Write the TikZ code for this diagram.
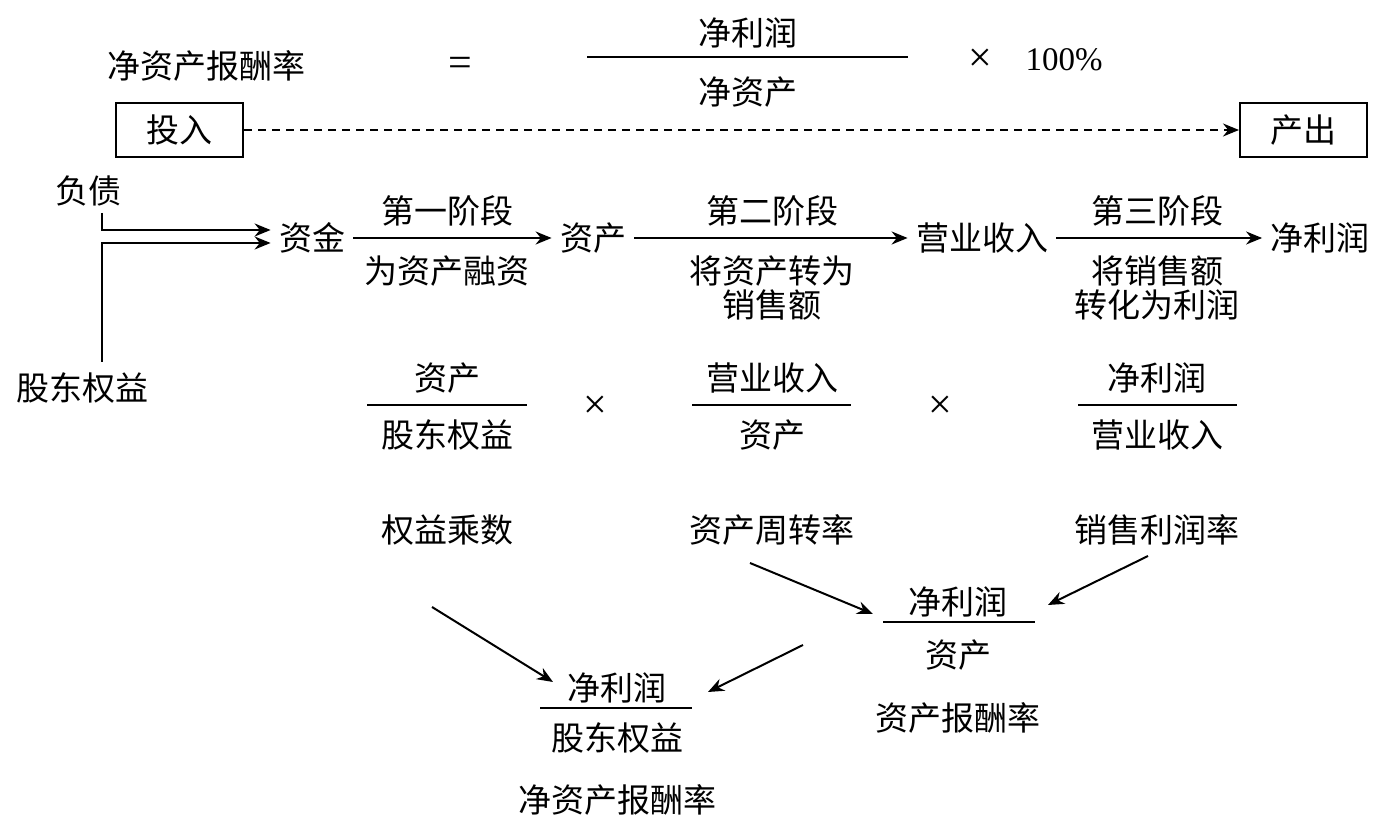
\documentclass[tikz,border=0pt]{standalone}
\usepackage{fontspec}
\setmainfont{Liberation Serif}
\newfontfamily\cjk{Noto Sans CJK SC}
\usetikzlibrary{arrows.meta}

\tikzset{
    lbl/.style={font=\cjk\fontsize{16.5}{17}\selectfont, inner sep=4pt, align=center},
    sym/.style={font=\fontsize{16.5}{17}\selectfont, inner sep=2pt},
    op/.style={font=\fontsize{21}{21}\selectfont, inner sep=2pt},
    wire/.style={line width=1pt},
    arr/.style={line width=1pt, -{Stealth[length=8pt,width=6.5pt]}},
    boxed/.style={lbl, draw, line width=1pt, minimum width=63.5pt, minimum height=27pt},
}

\begin{document}
\begin{tikzpicture}[x=0.5pt, y=-0.5pt]
    \useasboundingbox (0,0) rectangle (1399,839);
    % Top formula:
    \node[lbl] (Roe) at (206, 66) {净资产报酬率};
    \node[op] (Eq) at (460, 67) {=};
    \node[lbl] (RoeNum) at (748, 33) {净利润};
    \node[lbl] (RoeDen) at (748, 92) {净资产};
    \draw[wire] (587, 57) -- (908, 57);
    \node[op] (Times0) at (980, 60) {×};
    \node[sym] (Pct) at (1064, 60) {100\%};
    % Input and output:
    \node[boxed] (In) at (179.5, 130) {投入};
    \node[boxed] (Out) at (1303.5, 130) {产出};
    \draw[arr, dash pattern=on 4pt off 3pt] (In) -- (Out);
    % Funds chain:
    \node[lbl] (Debt) at (88, 191) {负债};
    \node[lbl] (Equity) at (83, 388) {股东权益};
    \coordinate (DebtEnd) at (102, 213);
    \coordinate (EquityEnd) at (102, 362);
    \node[lbl] (Funds) at (312, 238) {资金};
    \node[lbl] (Assets) at (593, 238) {资产};
    \node[lbl] (Sales) at (982, 238) {营业收入};
    \node[lbl] (Profit) at (1320, 238) {净利润};
    \draw[arr] (DebtEnd) |- ([yshift=4pt]Funds.west);
    \draw[arr] (EquityEnd) |- ([yshift=-2.5pt]Funds.west);
    \draw[arr] (Funds) -- (Assets);
    \draw[arr] (Assets) -- (Sales);
    \draw[arr] (Sales) -- (Profit);
    \node[lbl] (Stage1) at (447, 211) {第一阶段};
    \node[lbl] (Stage1b) at (447, 271) {为资产融资};
    \node[lbl] (Stage2) at (772, 211) {第二阶段};
    \node[lbl] (Stage2b) at (772, 288) {将资产转为\\销售额};
    \node[lbl] (Stage3) at (1157, 211) {第三阶段};
    \node[lbl] (Stage3b) at (1157, 288) {将销售额\\转化为利润};
    % Three ratios:
    \node[lbl] (EmNum) at (447, 378) {资产};
    \node[lbl] (EmDen) at (447, 435) {股东权益};
    \draw[wire] (367, 405) -- (527, 405);
    \node[op] (Times1) at (595, 407) {×};
    \node[lbl] (AtNum) at (772, 378) {营业收入};
    \node[lbl] (AtDen) at (772, 435) {资产};
    \draw[wire] (692, 405) -- (851, 405);
    \node[op] (Times2) at (940, 407) {×};
    \node[lbl] (PmNum) at (1157, 378) {净利润};
    \node[lbl] (PmDen) at (1157, 435) {营业收入};
    \draw[wire] (1078, 405) -- (1237, 405);
    \node[lbl] (Em) at (447, 530) {权益乘数};
    \node[lbl] (At) at (772, 530) {资产周转率};
    \node[lbl] (Pm) at (1157, 530) {销售利润率};
    % Return on assets:
    \node[lbl] (RoaNum) at (958, 602) {净利润};
    \node[lbl] (RoaDen) at (958, 655) {资产};
    \draw[wire] (883, 622) -- (1035, 622);
    \node[lbl] (Roa) at (958, 718) {资产报酬率};
    \coordinate (AtOut) at (750, 563);
    \coordinate (RoaInL) at (873, 614);
    \coordinate (PmOut) at (1148, 556);
    \coordinate (RoaInR) at (1048, 605);
    \draw[arr] (AtOut) -- (RoaInL);
    \draw[arr] (PmOut) -- (RoaInR);
    % Return on equity:
    \node[lbl] (RoeNum2) at (617, 688) {净利润};
    \node[lbl] (RoeDen2) at (617, 738) {股东权益};
    \draw[wire] (540, 708) -- (692, 708);
    \node[lbl] (Roe2) at (617, 800) {净资产报酬率};
    \coordinate (EmOut) at (432, 607);
    \coordinate (RoeInL) at (553, 682);
    \coordinate (RoaOut) at (803, 645);
    \coordinate (RoeInR) at (708, 692);
    \draw[arr] (EmOut) -- (RoeInL);
    \draw[arr] (RoaOut) -- (RoeInR);
\end{tikzpicture}
\end{document}
